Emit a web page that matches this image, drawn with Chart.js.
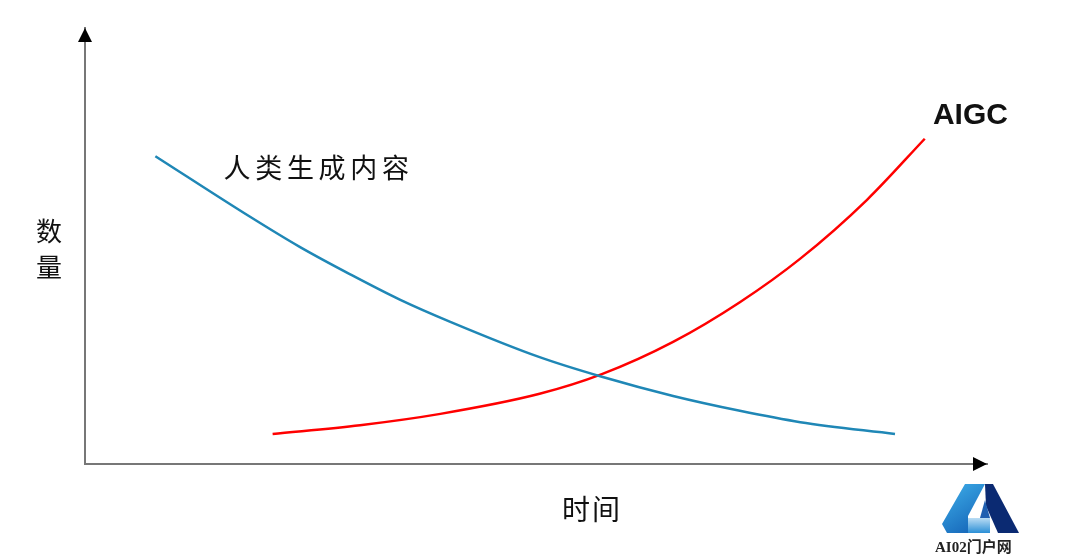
<!DOCTYPE html>
<html>
<head>
<meta charset="utf-8">
<script src="https://cdn.jsdelivr.net/npm/chart.js@4"></script>
<style>
  html, body { margin: 0; padding: 0; background: #fff; }
  #wrap { width: 1080px; height: 556px; }
</style>
</head>
<body>
<div id="wrap"><canvas id="trendChart" width="1080" height="556"></canvas></div>
<script>
// values (x = time, y = amount, both 0-100)
const humanX = [7.8, 18.3, 23.8, 29.4, 34.9, 40.5, 50.4, 57.3, 65.2, 72.6, 79.3, 89.8];
const humanY = [70.6, 56.7, 49.8, 43.5, 37.7, 32.6, 24.5, 20.0, 15.6, 12.2, 9.6, 6.9];
const aigcX = [20.8, 30.5, 39.4, 50.4, 57.3, 65.2, 72.6, 79.3, 86.7, 93.1];
const aigcY = [6.9, 8.9, 11.5, 16.1, 20.6, 28.0, 37.1, 47.1, 60.6, 74.6];

const seriesNames = ["人类生成内容", "AIGC"];
const xTitle = "时间";
const yTitle = ["数", "量"];
const watermark = "AI02门户网";

const cjk = '"Noto Sans CJK SC", sans-serif';

function toPoints(xs, ys) {
  return xs.map((x, i) => ({ x: x, y: ys[i] }));
}

// axis arrows, labels and the little logo
const decorations = {
  id: "decorations",
  afterDraw(chart) {
    const ctx = chart.ctx;
    const area = chart.chartArea;
    const xs = chart.scales.x;
    const ys = chart.scales.y;
    ctx.save();

    // arrow heads
    ctx.fillStyle = "#000";
    ctx.beginPath();
    ctx.moveTo(area.left, area.top);
    ctx.lineTo(area.left - 7, area.top + 14);
    ctx.lineTo(area.left + 7, area.top + 14);
    ctx.closePath();
    ctx.fill();
    ctx.beginPath();
    ctx.moveTo(area.right, area.bottom);
    ctx.lineTo(area.right - 14, area.bottom - 7);
    ctx.lineTo(area.right - 14, area.bottom + 7);
    ctx.closePath();
    ctx.fill();

    // series labels
    ctx.fillStyle = "#111";
    ctx.textBaseline = "middle";
    ctx.textAlign = "center";
    ctx.font = "27px " + cjk;
    let lx = xs.getPixelForValue(15.3);
    const ly = ys.getPixelForValue(67.9);
    for (const ch of seriesNames[0]) {
      ctx.fillText(ch, lx + 14, ly);
      lx += 31.7;
    }
    ctx.textAlign = "left";
    ctx.font = "bold 30px 'Liberation Sans', Arial, sans-serif";
    ctx.fillText(seriesNames[1], xs.getPixelForValue(94.0), ys.getPixelForValue(79.8));

    // axis titles
    ctx.textAlign = "center";
    ctx.font = "26px " + cjk;
    ctx.fillText(yTitle[0], area.left - 36, 231);
    ctx.fillText(yTitle[1], area.left - 36, 267);
    ctx.font = "28px " + cjk;
    ctx.fillText(xTitle[0], 576, area.bottom + 45);
    ctx.fillText(xTitle[1], 606, area.bottom + 45);

    // logo
    const g1 = ctx.createLinearGradient(942, 484, 975, 533);
    g1.addColorStop(0, "#3fb0ea");
    g1.addColorStop(1, "#1565b8");
    ctx.fillStyle = g1;
    ctx.beginPath();
    ctx.moveTo(965, 484);
    ctx.lineTo(985, 484);
    ctx.lineTo(968, 516);
    ctx.lineTo(968, 533);
    ctx.lineTo(947, 533);
    ctx.lineTo(942, 524);
    ctx.closePath();
    ctx.fill();
    ctx.fillStyle = "#0b2a72";
    ctx.beginPath();
    ctx.moveTo(985, 484);
    ctx.lineTo(993, 484);
    ctx.lineTo(1019, 533);
    ctx.lineTo(998, 533);
    ctx.lineTo(986, 506);
    ctx.closePath();
    ctx.fill();
    const g2 = ctx.createLinearGradient(968, 515, 968, 533);
    g2.addColorStop(0, "#d7ecfa");
    g2.addColorStop(1, "#2b8fd6");
    ctx.fillStyle = g2;
    ctx.fillRect(968, 518, 22, 15);
    ctx.fillStyle = "#1f5fb0";
    ctx.beginPath();
    ctx.moveTo(985, 500);
    ctx.lineTo(990, 518);
    ctx.lineTo(980, 518);
    ctx.closePath();
    ctx.fill();

    ctx.fillStyle = "#222";
    ctx.font = "bold 15px 'Liberation Serif', " + cjk;
    ctx.textAlign = "left";
    ctx.fillText(watermark, 935, 548);
    ctx.restore();
  }
};

new Chart(document.getElementById("trendChart"), {
  type: "line",
  data: {
    datasets: [
      {
        label: seriesNames[0],
        data: toPoints(humanX, humanY),
        borderColor: "#1f87b6",
        borderWidth: 2.5,
        pointRadius: 0,
        cubicInterpolationMode: "monotone",
        fill: false,
      },
      {
        label: seriesNames[1],
        data: toPoints(aigcX, aigcY),
        borderColor: "#ff0000",
        borderWidth: 2.5,
        pointRadius: 0,
        cubicInterpolationMode: "monotone",
        fill: false,
      },
    ],
  },
  options: {
    responsive: false,
    maintainAspectRatio: false,
    animation: false,
    devicePixelRatio: 1,
    layout: { padding: { left: 85, right: 93, top: 28, bottom: 92 } },
    plugins: {
      legend: { display: false },
      tooltip: { enabled: false },
    },
    scales: {
      x: {
        type: "linear",
        min: 0,
        max: 100,
        grid: { display: false, drawTicks: false },
        ticks: { display: false },
        border: { display: true, color: "#777", width: 2 },
      },
      y: {
        type: "linear",
        min: 0,
        max: 100,
        grid: { display: false, drawTicks: false },
        ticks: { display: false },
        border: { display: true, color: "#777", width: 2 },
      },
    },
  },
  plugins: [decorations],
});
</script>
</body>
</html>
